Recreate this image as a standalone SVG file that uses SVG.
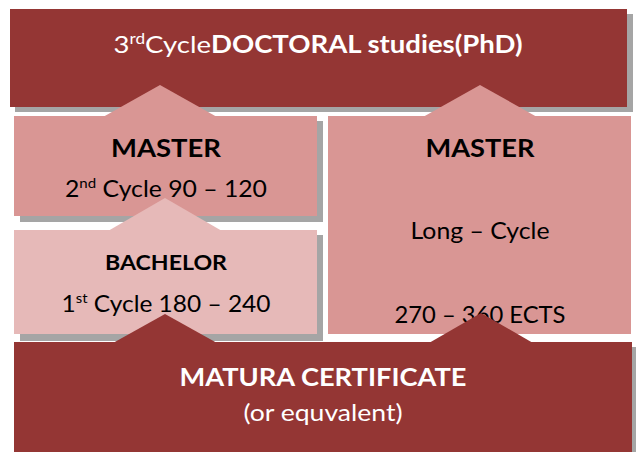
<svg xmlns="http://www.w3.org/2000/svg" width="636" height="452" viewBox="0 0 636 452">
<style>
.dark{fill:#943634}
.mid{fill:#D99694}
.light{fill:#E6B9B8}
.shadow{fill:#A5A5A5}
text{font-family:Lato,"Open Sans","Liberation Sans",sans-serif;text-anchor:middle}
.w{fill:#FFFFFF}
.k{fill:#000000}
.b{font-weight:bold}
</style>
<rect width="636" height="452" fill="#FFFFFF"/>
<g id="doctoral">
<rect class="shadow" x="15" y="14" width="618" height="98"/>
<rect class="dark" x="10" y="9" width="617" height="98"/>
<text class="w" x="318" y="53" font-size="24" textLength="409" lengthAdjust="spacingAndGlyphs">3<tspan font-size="15" dy="-9">rd</tspan><tspan dy="9">Cycle</tspan><tspan class="b">DOCTORAL studies(PhD)</tspan></text>
</g>
<g id="master-2nd">
<rect class="shadow" x="20" y="121" width="303" height="101"/>
<rect class="mid" x="14" y="116" width="303" height="100"/>
<text class="k b" x="166" y="157" font-size="25" textLength="110" lengthAdjust="spacingAndGlyphs">MASTER</text>
<text class="k" x="166" y="197" font-size="23" textLength="202" lengthAdjust="spacingAndGlyphs">2<tspan font-size="14" dy="-9">nd</tspan><tspan dy="9"> Cycle 90 – 120</tspan></text>
</g>
<g id="master-long">
<rect class="mid" x="328" y="116" width="303" height="218"/>
<text class="k b" x="480" y="157" font-size="25" textLength="109" lengthAdjust="spacingAndGlyphs">MASTER</text>
<text class="k" x="480" y="239" font-size="23" textLength="139" lengthAdjust="spacingAndGlyphs">Long – Cycle</text>
<text class="k" x="480" y="323" font-size="23" textLength="171" lengthAdjust="spacingAndGlyphs">270 – 360 ECTS</text>
</g>
<g id="bachelor">
<rect class="shadow" x="20" y="235" width="303" height="106"/>
<rect class="light" x="14" y="230" width="303" height="104"/>
<text class="k b" x="166" y="270" font-size="21" textLength="122" lengthAdjust="spacingAndGlyphs">BACHELOR</text>
<text class="k" x="166" y="312" font-size="23" textLength="209" lengthAdjust="spacingAndGlyphs">1<tspan font-size="14" dy="-9">st</tspan><tspan dy="9"> Cycle 180 – 240</tspan></text>
</g>
<g id="matura">
<rect class="shadow" x="19" y="347" width="618" height="110"/>
<rect class="dark" x="14" y="342" width="618" height="112"/>
<text class="w b" x="323" y="386" font-size="25" textLength="287" lengthAdjust="spacingAndGlyphs">MATURA CERTIFICATE</text>
<text class="w" x="323" y="421" font-size="23" textLength="159" lengthAdjust="spacingAndGlyphs">(or equvalent)</text>
</g>
<g id="connectors">
<polygon class="mid" points="160,85 103,117 217,117"/>
<polygon class="mid" points="480,85 423,117 537,117"/>
<polygon class="light" points="165,198 108,231 222,231"/>
<polygon class="dark" points="165,314 113,343 217,343"/>
<polygon class="dark" points="481,313 429,343 533,343"/>
</g>
</svg>
